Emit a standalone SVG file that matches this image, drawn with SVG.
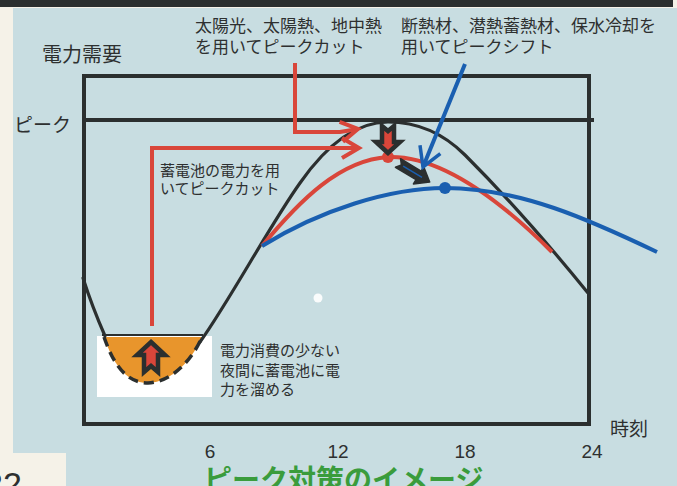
<svg xmlns="http://www.w3.org/2000/svg" width="677" height="486" viewBox="0 0 677 486">
<style>
.t{font-family:"Noto Sans CJK JP","Noto Sans",sans-serif;fill:#2e3030}
.lbl{font-size:17px}
.sm{font-size:15px}
.num{font-family:"Liberation Sans","Noto Sans",sans-serif;font-size:19px;fill:#2e3030;text-anchor:middle}
.frame{fill:none;stroke:#2b2f2f;stroke-width:4}
.blk{fill:none;stroke:#2b2f2f;stroke-width:3.2;stroke-linecap:round}
.red{fill:none;stroke:#d9463a;stroke-width:4}
.blue{fill:none;stroke:#1a5fb0;stroke-width:4}
.arrowShape{fill:#d9463a;stroke:#2b2f2f;stroke-width:4.5;stroke-linejoin:miter}
</style>
<defs>
<marker id="redChev" markerUnits="userSpaceOnUse" markerWidth="22" markerHeight="24" refX="17" refY="10" orient="auto" overflow="visible">
<path d="M0,0 L17,10 L0,20" fill="none" stroke="#d9463a" stroke-width="4"/>
</marker>
<marker id="blueHead" markerUnits="userSpaceOnUse" markerWidth="24" markerHeight="26" refX="19" refY="11" orient="auto" overflow="visible">
<path d="M0,0 L19,11 L0,22" fill="none" stroke="#1a5fb0" stroke-width="3.5"/>
</marker>
</defs>
<!-- background -->
<rect x="0" y="0" width="677" height="486" fill="#f5f2e8"/>
<rect x="13" y="8" width="664" height="478" fill="#c8dde1"/>
<rect x="0" y="0" width="673" height="7" fill="#2b2f2f"/>
<rect x="0" y="453" width="66" height="33" fill="#f5f2e8"/>
<text x="-16" y="496" font-family="Liberation Sans,sans-serif" font-size="34" fill="#2e3030">22</text>
<circle cx="318" cy="298" r="4.5" fill="#ffffff" opacity="0.9"/>

<g id="chart-frame">
<polyline class="frame" points="84,180 84,76 589,76 589,424 84,424 84,180"/>
<line class="frame" x1="84" y1="120" x2="594" y2="120"/>
</g>

<g id="axis-labels">
<text class="t" x="42" y="62" font-size="20">電力需要</text>
<text class="t" x="14" y="132" font-size="19">ピーク</text>
<text class="t" x="610" y="436" font-size="19">時刻</text>
<text class="num" x="210" y="458">6</text>
<text class="num" x="338" y="458">12</text>
<text class="num" x="465" y="458">18</text>
<text class="num" x="592" y="458">24</text>
</g>

<g id="night-storage">
<rect x="97" y="336" width="115" height="61" fill="#ffffff"/>
<path d="M104,337 L202,337 C 192,360 172,382 148,383 C 124,383 112,360 104,337 Z" fill="#e8952c"/>
<line x1="102" y1="335" x2="203" y2="335" stroke="#2b2f2f" stroke-width="2"/>
<path d="M104,337 C 112,360 124,383 148,383 C 172,382 192,360 202,337" fill="none" stroke="#2b2f2f" stroke-width="3.5" stroke-dasharray="10,6"/>
<polygon class="arrowShape" points="151,342 165,355 158,355 158,372 151,366 144,372 144,355 137,355"/>
</g>

<g id="demand-curve">
<path class="blk" d="M83,278 C 90,300 98,320 105,336"/>
<path class="blk" d="M200,342 C 230,300 270,225 300,183 C 330,140 360,122 388,122 C 420,122 445,135 465,155 C 500,190 545,240 588,293"/>
</g>

<g id="peak-cut-curve">
<path class="red" d="M262,246 C 300,200 340,160 388,157 C 440,155 500,200 552,252"/>
<circle cx="388" cy="157" r="6" fill="#d9463a"/>
<polygon class="arrowShape" points="388,153 376,142 382,142 382,126 388,131 394,126 394,142 400,142"/>
</g>

<g id="peak-shift-curve">
<path class="blue" d="M262,246 C 320,210 390,188 445,188 C 520,188 590,220 657,252"/>
<circle cx="445" cy="188" r="6" fill="#1a5fb0"/>
<g transform="translate(398,163) rotate(31)">
<polygon points="0,-5 24,-5 24,-10 37,0 24,10 24,5 0,5 4,0" fill="#2b2f2f" stroke="#2b2f2f" stroke-width="1.5" stroke-linejoin="round"/>
<line x1="6" y1="0" x2="28" y2="0" stroke="#1a5fb0" stroke-width="1.5"/>
</g>
</g>

<g id="label-solar">
<text class="t lbl" x="195" y="32">太陽光、太陽熱、地中熱</text>
<text class="t lbl" x="195" y="53">を用いてピークカット</text>
</g>
<g id="label-insulation">
<text class="t lbl" x="401" y="32">断熱材、潜熱蓄熱材、保水冷却を</text>
<text class="t lbl" x="401" y="53">用いてピークシフト</text>
</g>
<g id="label-battery">
<text class="t sm" x="160" y="176">蓄電池の電力を用</text>
<text class="t sm" x="160" y="194">いてピークカット</text>
</g>
<g id="label-night">
<text class="t sm" x="220" y="356">電力消費の少ない</text>
<text class="t sm" x="220" y="376">夜間に蓄電池に電</text>
<text class="t sm" x="220" y="395">力を溜める</text>
</g>

<g id="connectors">
<path class="red" d="M295,63 V132 H340 L358,129" marker-end="url(#redChev)"/>
<path class="red" d="M152,326 V148 H359" marker-end="url(#redChev)"/>
<line class="blue" x1="465" y1="64" x2="423" y2="167" stroke-width="3.5" marker-end="url(#blueHead)"/>
</g>

<g id="title">
<text x="204" y="490" font-family="Noto Sans CJK JP,sans-serif" font-size="28" font-weight="bold" fill="#3a9c3c">ピーク対策のイメージ</text>
</g>
</svg>
